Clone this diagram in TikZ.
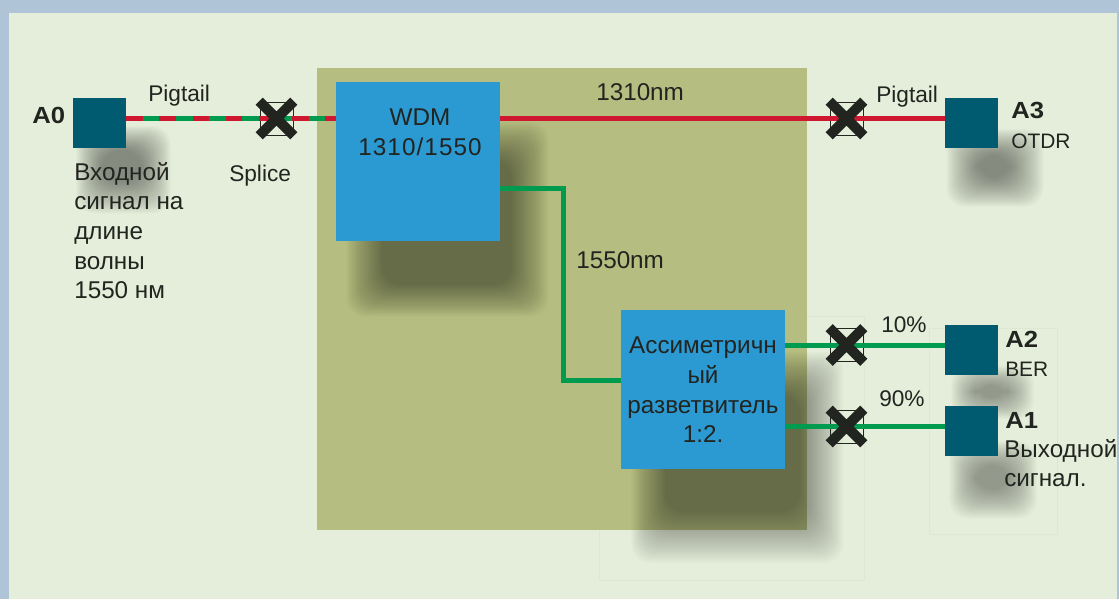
\documentclass[tikz,border=0pt]{standalone}
\usepackage{fontspec}
\setmainfont{Liberation Sans}
\newfontfamily\portfont[FakeStretch=1.1]{Liberation Sans}
\newfontfamily\spacedfont[LetterSpace=4.5]{Liberation Sans}
\usetikzlibrary{shapes.misc}
\definecolor{pagecol}{HTML}{B0C4D8}
\definecolor{panelcol}{HTML}{E5EEDA}
\definecolor{olivecol}{HTML}{B5BD80}
\definecolor{bluecol}{HTML}{2B9AD3}
\definecolor{tealcol}{HTML}{005A70}
\definecolor{redcol}{HTML}{CF1830}
\definecolor{greencol}{HTML}{009B4E}
\definecolor{inkcol}{HTML}{222420}
\definecolor{faintcol}{HTML}{DDE7D3}
\tikzset{
    labeltext/.style={inner sep=0pt,text=inkcol,font=\fontsize{17}{22.5}\selectfont},
    bodytext/.style={inner sep=0pt,text=inkcol,font=\fontsize{18.2}{22.2}\selectfont},
    tagtext/.style={inner sep=0pt,text=inkcol,font=\fontsize{15.7}{22.5}\selectfont},
    porttext/.style={inner sep=0pt,text=inkcol,font=\portfont\bfseries\fontsize{17.5}{22.5}\selectfont},
    port/.style={fill=tealcol,minimum width=39.75pt,minimum height=37.5pt,inner sep=0pt},
    unit/.style={fill=bluecol,minimum width=123pt,minimum height=119.25pt,inner sep=0pt},
    fibre/.style={line width=3.75pt},
    splicebox/.style={draw=inkcol,line width=0.6pt,minimum size=24.75pt,inner sep=0pt},
    splicecross/.style={cross out,draw=inkcol,line width=7.5pt,minimum size=26pt,inner sep=0pt,outer sep=0pt},
    shadowlayer/.style={fill=black,rounded corners=14pt}
}
% blurred patch: outer box, inner box, strength of one layer
\newcommand{\softshadow}[9]{%
    \foreach \i in {1,...,24}{
        \fill[shadowlayer,fill opacity=#9] ({#1+(#5-#1)*\i/24},{#2+(#6-#2)*\i/24}) rectangle ({#3+(#7-#3)*\i/24},{#4+(#8-#4)*\i/24});
    }
}

\begin{document}
\begin{tikzpicture}[x=0.75pt,y=-0.75pt]
    \useasboundingbox (0,0) rectangle (1119,599);
    \fill[pagecol] (0,0) rectangle (1119,599);
    \fill[panelcol] (9,13) rectangle (1117,599);

    \draw[faintcol] (599,316) rectangle (864,580);
    \draw[faintcol] (929,328) rectangle (1057,534);

    \fill[olivecol] (317,68) rectangle (807,530);

    \softshadow{345}{120}{550}{318}{382}{160}{512}{285}{0.019}
    \softshadow{630}{350}{845}{565}{665}{395}{800}{512}{0.019}
    \softshadow{945}{128}{1045}{208}{978}{155}{1010}{178}{0.019}
    \softshadow{950}{365}{1035}{420}{975}{385}{1008}{398}{0.017}
    \softshadow{948}{440}{1038}{520}{975}{465}{1010}{490}{0.017}
    \softshadow{75}{125}{172}{215}{102}{150}{142}{182}{0.019}

    \node[port] (A0) at (99.5,123) {};
    \node[port] (A3) at (971.5,123) {};
    \node[port] (A2) at (971.5,350) {};
    \node[port] (A1) at (971.5,431) {};
    \node[unit] (WDM) at (418,161.5) {};
    \node[unit] (SPL) at (703,389.5) {};

    \node[splicebox] (spliceIn) at (276.5,118.5) {};
    \node[splicebox] (spliceOut) at (846.5,118.5) {};
    \node[splicebox] (spliceTen) at (846.5,345) {};
    \node[splicebox] (spliceNinety) at (846.5,426.5) {};

    \coordinate (bendA) at (563,188.5);
    \coordinate (bendB) at (563,380);

    \draw[fibre,greencol] (A0.east |- spliceIn) -- (spliceIn -| WDM.west);
    \draw[fibre,redcol,dash pattern=on 12.45pt off 12.45pt] (A0.east |- spliceIn) -- (spliceIn -| WDM.west);
    \draw[fibre,redcol] (WDM.east |- spliceOut) -- (A3.west |- spliceOut);
    \draw[fibre,greencol,line join=miter] (WDM.east |- bendA) -- (bendA) -- (bendB) -- (SPL.west |- bendB);
    \draw[fibre,greencol] (SPL.east |- spliceTen) -- (A2.west |- spliceTen);
    \draw[fibre,greencol] (SPL.east |- spliceNinety) -- (A1.west |- spliceNinety);

    \node[splicecross] (crossIn) at (spliceIn) {};
    \node[splicecross] (crossOut) at (spliceOut) {};
    \node[splicecross] (crossTen) at (spliceTen) {};
    \node[splicecross] (crossNinety) at (spliceNinety) {};

    \node[porttext,anchor=base west] (labA0) at (32,124) {A0};
    \node[porttext,anchor=base west] (labA3) at (1011,118) {A3};
    \node[porttext,anchor=base west] (labA2) at (1005,347) {A2};
    \node[porttext,anchor=base west] (labA1) at (1005,428) {A1};

    \node[tagtext,anchor=base west] (labOTDR) at (1011,148) {OTDR};
    \node[tagtext,anchor=base west] (labBER) at (1005,376) {BER};
    \node[bodytext,anchor=base west,align=left] (labOut) at (1004,457) {Выходной};
    \node[bodytext,anchor=base west,align=left] (labSig) at (1004,486) {сигнал.};
    \node[bodytext,anchor=north west,align=left] (labIn) at (74,162) {Входной\\сигнал на\\длине\\волны\\1550 нм};

    \node[labeltext,anchor=base west] (labPigA) at (148,102) {Pigtail};
    \node[labeltext,anchor=base west] (labPigB) at (876,103) {Pigtail};
    \node[labeltext,anchor=base west] (labSplice) at (229,181) {Splice};
    \node[bodytext,anchor=base west] (lab1310) at (596,101) {1310nm};
    \node[bodytext,anchor=base west] (lab1550) at (576,268) {1550nm};
    \node[labeltext,anchor=base west] (labTen) at (881,332) {10\%};
    \node[labeltext,anchor=base west] (labNinety) at (879,406) {90\%};

    \node[bodytext,anchor=north,align=center] (txtWDM) at (420,108.5) {WDM\\{\spacedfont 1310/1550}};
    \node[bodytext,anchor=north,align=center] (txtSPL) at (703,337) {Ассиметричн\\ый\\разветвитель\\1:2.};
\end{tikzpicture}
\end{document}
